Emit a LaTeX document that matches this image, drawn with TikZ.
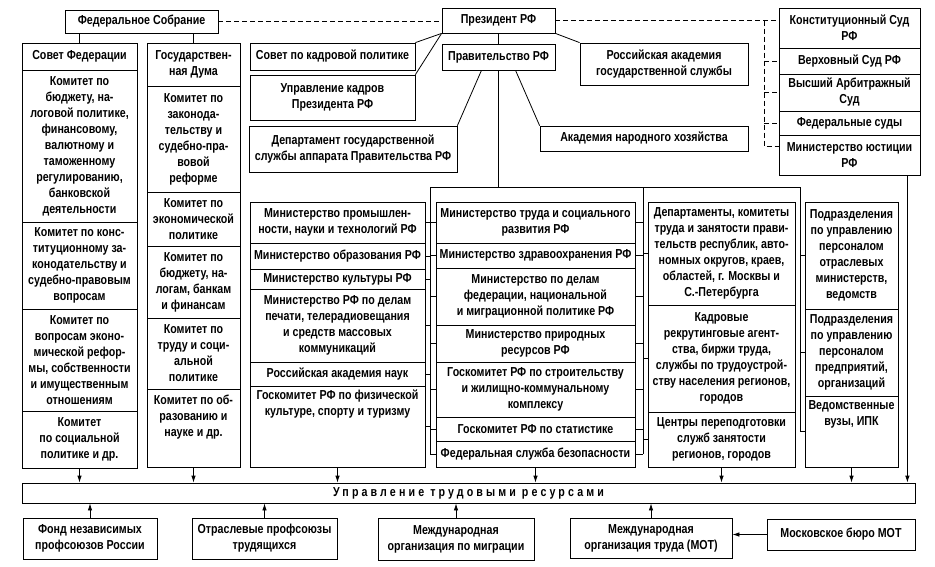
\documentclass[tikz,border=0pt]{standalone}
\usepackage{fontspec}
\setmainfont{Liberation Sans}[FakeStretch=0.82]
\usetikzlibrary{arrows.meta, calc}

\tikzset{
  box/.style={draw, line width=0.8pt, inner sep=0pt, align=center,
    font=\fontsize{13}{16}\selectfont\bfseries},
  txt/.style={inner sep=0pt, align=center, font=\fontsize{13}{16}\selectfont\bfseries},
  cellat/.style n args={4}{at={({(#1+#3)/2},{(#2+#4)/2})},
    minimum width={(#3-#1)*1pt}, minimum height={(#4-#2)*1pt}},
  link/.style={line width=0.8pt},
  dlink/.style={line width=0.8pt, dash pattern=on 5pt off 3pt},
  arr/.style={line width=0.8pt, -{Latex[length=7pt,width=4.5pt]}},
}

\begin{document}
\begin{tikzpicture}[x=1pt, y=-1pt]
  \useasboundingbox (0,0) rectangle (935,566);

  % top level
  \node[box, cellat={65}{10}{218}{33}] (fs) {Федеральное Собрание};
  \node[box, cellat={442}{8}{555}{33}] (pres) {Президент РФ};

  % courts
  \node[box, cellat={779}{8}{920}{48}] (ks) {Конституционный Суд\\РФ};
  \node[box, cellat={779}{48}{920}{74}] (vs) {Верховный Суд РФ};
  \node[box, cellat={779}{74}{920}{111}] (vas) {Высший Арбитражный\\Суд};
  \node[box, cellat={779}{111}{920}{135}] (fsud) {Федеральные суды};
  \node[box, cellat={779}{135}{920}{175}] (minjust) {Министерство юстиции\\РФ};

  % Federation Council
  \node[box, cellat={22}{43}{137}{70}] (sf) {Совет Федерации};
  \node[box, cellat={22}{70}{137}{222}] (sf1) {Комитет по\\бюджету, на-\\логовой политике,\\финансовому,\\валютному и\\таможенному\\регулированию,\\банковской\\деятельности};
  \node[box, cellat={22}{222}{137}{309}] (sf2) {Комитет по конс-\\титуционному за-\\конодательству и\\судебно-правовым\\вопросам};
  \node[box, cellat={22}{309}{137}{411}] (sf3) {Комитет по\\вопросам эконо-\\мической рефор-\\мы, собственности\\и имущественным\\отношениям};
  \node[box, cellat={22}{411}{137}{468}] (sf4) {Комитет\\по социальной\\политике и др.};

  % State Duma
  \node[box, cellat={147}{43}{240}{86}] (gd) {Государствен-\\ная Дума};
  \node[box, cellat={147}{86}{240}{192}] (gd1) {Комитет по\\законода-\\тельству и\\судебно-пра-\\вовой\\реформе};
  \node[box, cellat={147}{192}{240}{246}] (gd2) {Комитет по\\экономической\\политике};
  \node[box, cellat={147}{246}{240}{318}] (gd3) {Комитет по\\бюджету, на-\\логам, банкам\\и финансам};
  \node[box, cellat={147}{318}{240}{389}] (gd4) {Комитет по\\труду и соци-\\альной\\политике};
  \node[box, cellat={147}{389}{240}{467}] (gd5) {};
  \node[txt, anchor=north] at ([yshift=-6pt]gd5.north) {Комитет по об-\\разованию и\\науке и др.};

  % presidential bodies
  \node[box, cellat={250}{43}{415}{70}] (skp) {Совет по кадровой политике};
  \node[box, cellat={250}{75}{415}{120}] (ukp) {Управление кадров\\Президента РФ};
  \node[box, cellat={249}{126}{457}{172}] (dgs) {Департамент государственной\\службы аппарата Правительства РФ};
  \node[box, cellat={442}{44}{555}{70}] (prav) {Правительство РФ};
  \node[box, cellat={580}{43}{748}{85}] (rags) {Российская академия\\государственной службы};
  \node[box, cellat={540}{126}{748}{151}] (anh) {Академия народного хозяйства};

  % ministries, first column
  \node[box, cellat={250}{202}{425}{243}] (m1) {Министерство промышлен-\\ности, науки и технологий РФ};
  \node[box, cellat={250}{243}{425}{269}] (m2) {Министерство образования РФ};
  \node[box, cellat={250}{269}{425}{289}] (m3) {Министерство культуры РФ};
  \node[box, cellat={250}{289}{425}{362}] (m4) {Министерство РФ по делам\\печати, телерадиовещания\\и средств массовых\\коммуникаций};
  \node[box, cellat={250}{362}{425}{386}] (m5) {Российская академия наук};
  \node[box, cellat={250}{386}{425}{467}] (m6) {};
  \node[txt, anchor=north] at ([yshift=-4pt]m6.north) {Госкомитет РФ по физической\\культуре, спорту и туризму};

  % ministries, second column
  \node[box, cellat={436}{202}{635}{243}] (n1) {Министерство труда и социального\\развития РФ};
  \node[box, cellat={436}{243}{635}{268}] (n2) {Министерство здравоохранения РФ};
  \node[box, cellat={436}{268}{635}{325}] (n3) {Министерство по делам\\федерации, национальной\\и миграционной политике РФ};
  \node[box, cellat={436}{325}{635}{362}] (n4) {Министерство природных\\ресурсов РФ};
  \node[box, cellat={436}{362}{635}{417}] (n5) {Госкомитет РФ по строительству\\и жилищно-коммунальному\\комплексу};
  \node[box, cellat={436}{417}{635}{441}] (n6) {Госкомитет РФ по статистике};
  \node[box, cellat={436}{441}{635}{467}] (n7) {Федеральная служба безопасности};

  % regional bodies
  \node[box, cellat={648}{202}{795}{305}] (d1) {Департаменты, комитеты\\труда и занятости прави-\\тельств республик, авто-\\номных округов, краев,\\областей, г. Москвы и\\С.-Петербурга};
  \node[box, cellat={648}{305}{795}{412}] (d2) {Кадровые\\рекрутинговые агент-\\ства, биржи труда,\\службы по трудоустрой-\\ству населения регионов,\\городов};
  \node[box, cellat={648}{412}{795}{467}] (d3) {Центры переподготовки\\служб занятости\\регионов, городов};

  % personnel units
  \node[box, cellat={805}{202}{898}{309}] (p1) {Подразделения\\по управлению\\персоналом\\отраслевых\\министерств,\\ведомств};
  \node[box, cellat={805}{309}{898}{396}] (p2) {Подразделения\\по управлению\\персоналом\\предприятий,\\организаций};
  \node[box, cellat={805}{396}{898}{467}] (p3) {};
  \node[txt, anchor=north] at ([yshift=-5pt]p3.north) {Ведомственные\\вузы, ИПК};

  % labour resources
  \node[box, cellat={22}{483}{915}{503}, font=\fontsize{13}{16}\selectfont\bfseries\addfontfeatures{LetterSpace=24}] (utr) {Управление трудовыми ресурсами};

  \node[box, cellat={23}{518}{157}{559}] (fnp) {Фонд независимых\\профсоюзов России};
  \node[box, cellat={192}{518}{337}{559}] (ops) {Отраслевые профсоюзы\\трудящихся};
  \node[box, cellat={378}{518}{534}{560}] (mom) {Международная\\организация по миграции};
  \node[box, cellat={570}{518}{732}{558}] (mot) {Международная\\организация труда (МОТ)};
  \node[box, cellat={767}{519}{915}{550}] (mbm) {Московское бюро МОТ};

  % connections
  \draw[dlink] (fs.east) -- (fs.east -| pres.west);
  \draw[dlink] (pres.east) -- (pres.east -| ks.west);
  \coordinate (jb) at (764,146);
  \draw[dlink] (pres.east -| jb) -- (jb) -- (jb -| minjust.west);
  \foreach \c in {vs,vas,fsud}
    \draw[dlink] (\c.west -| jb) -- (\c.west);

  \draw[link] (sf.north) -- (sf.north |- fs.south);
  \draw[link] (gd.north) -- (gd.north |- fs.south);

  \draw[link] (pres.south) -- (prav.north);
  \draw[link] (pres.south west) -- (skp.north east);
  \draw[link] (pres.south west) -- (ukp.north east);
  \draw[link] (pres.south east) -- (rags.north west);
  \draw[link] ($(prav.south west)!0.35!(prav.south east)$) -- (dgs.north east);
  \draw[link] ($(prav.south west)!0.65!(prav.south east)$) -- (anh.north west);

  % buses to the ministries
  \coordinate (busa) at (430,187);
  \coordinate (busb) at (643,187);
  \coordinate (busc) at (800,187);
  \draw[link] (prav.south) -- (prav.south |- busa);
  \draw[link] (busa) -- (busc);
  \draw[link] (busa) -- (busa |- n7.west);
  \draw[link] (busb) -- (busb |- n7.east);
  \draw[link] (busc) -- (busc |- p3.west);
  \foreach \b in {m1,m2,m3,m4,m5,m6}
    \draw[link] (\b.east) -- (\b.east -| busa);
  \foreach \b in {n1,n2,n3,n4,n5,n6,n7} {
    \draw[link] (\b.west) -- (\b.west -| busa);
    \draw[link] (\b.east) -- (\b.east -| busb);
  }
  \foreach \b in {d1,d2,d3}
    \draw[link] (\b.west) -- (\b.west -| busb);
  \foreach \b in {p1,p2,p3}
    \draw[link] (\b.west) -- (\b.west -| busc);

  % into labour resources
  \foreach \b in {sf4,gd5,m6,n7,d3,p3}
    \draw[arr] (\b.south) -- (\b.south |- utr.north);
  \draw[arr] ([xshift=-13pt]minjust.south east) coordinate (j1) -- (j1 |- utr.north);
  \foreach \b in {fnp,ops,mom,mot}
    \draw[arr] (\b.north) -- (\b.north |- utr.south);
  \draw[arr] (mbm.west) -- (mbm.west -| mot.east);
\end{tikzpicture}
\end{document}
